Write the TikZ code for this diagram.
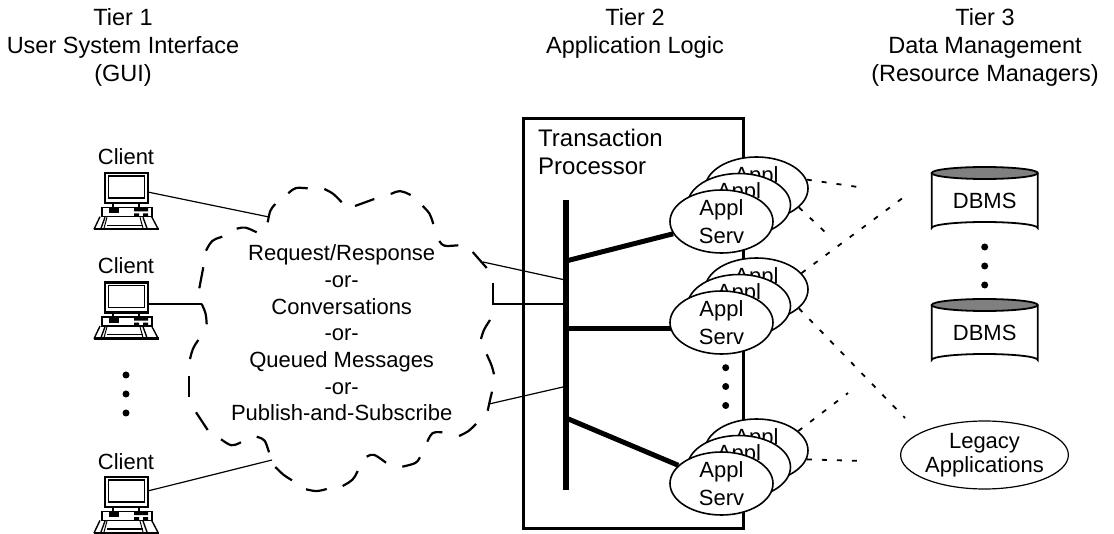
\documentclass[tikz,border=0pt]{standalone}
\usepackage{fontspec}
\setmainfont{Liberation Sans}
\usetikzlibrary{shapes.geometric}
\tikzset{
  txt/.style={font=\fontsize{22}{27.5}\selectfont,align=center,inner sep=0pt},
  head/.style={font=\fontsize{23.5}{28}\selectfont,align=center,inner sep=0pt},
  appl/.style={ellipse,draw,fill=white,line width=1.6pt,minimum width=103pt,minimum height=63pt,inner sep=0pt,font=\fontsize{22}{28}\selectfont,align=center},
  dot/.style={circle,fill=black,minimum size=7pt,inner sep=0pt},
  thinline/.style={line width=1.2pt},
  busline/.style={line width=5pt},
  dashline/.style={line width=1.8pt,dash pattern=on 5pt off 10pt},
  computer/.pic={
    \draw[line width=2.4pt] (0,0) rectangle (42.7,30);
    \draw[line width=1.6pt] (3.3,2.7) rectangle (39.5,25);
    \draw[line width=1.6pt] (8,30) -- (8,34) (34,30) -- (34,34);
    \draw[line width=1.6pt] (-3.3,34.4) rectangle (46.7,43.4);
    \fill (4,34.4) rectangle (14,40);
    \fill (29,34.4) rectangle (43,38) (29,40) rectangle (34,43.4) (38,40) rectangle (43,43.4);
    \draw[line width=1.4pt] (-5,43.4) -- (-11,56) (46.7,43.4) -- (53.3,56);
    \draw[line width=1.4pt] (0,44) -- (-4,55) (38,44) -- (42,55);
    \draw[line width=1pt] (2,44) -- (-1,55) (35,44) -- (38,55);
    \draw[line width=1.2pt] (2,52) -- (38,52);
    \draw[line width=2.4pt] (-11.5,56) -- (53.8,56);
  },
  dbms/.pic={
    \draw[line width=1.8pt,fill=white] (-53,0) -- (-53,55) arc[start angle=180,end angle=360,x radius=53,y radius=6] -- (53,0);
    \draw[line width=1.8pt,fill=gray] (0,0) ellipse[x radius=53,y radius=6];
    \node[txt] (-label) at (0,28) {DBMS};
  },
}
\begin{document}
\begin{tikzpicture}[x=1pt,y=-1pt]
\useasboundingbox (0,0) rectangle (1114,534);
% tier headings
\node[head] (tier1) at (123,47) {Tier 1\\User System Interface\\(GUI)};
\node[head] (tier2) at (635,33) {Tier 2\\Application Logic};
\node[head] (tier3) at (985,47) {Tier 3\\Data Management\\(Resource Managers)};
% clients
\node[txt] (c1) at (126,157) {Client};
\node[txt] (c2) at (126,266) {Client};
\node[txt] (c3) at (126,462) {Client};
\pic at (105,173.3) {computer};
\pic at (105,282.7) {computer};
\pic at (105,477) {computer};
\foreach \y/\n in {375/a,394/b,413/c} \node[dot] (cd\n) at (126,\y) {};
% the cloud
\foreach \ax/\ay/\bx/\by/\cx/\cy in {
  267.7/222.3/270/210/275.3/204, 288.3/193.3/295/187.3/307.7/188.3,
  324.3/189/333.3/193.3/341.7/202.3, 355/206/364/203/374.3/199,
  390.7/194/400/190/410.7/195, 422.7/206/430/213.3/433.3/224,
  439.3/241/443/246.5/458.3/245.3, 472.7/252/480/260/486.7/268,
  490/320/483.5/330/481/339, 486.7/354.3/492/366/494/374.3,
  492/391.7/490/400/487.7/410.7, 476/424/468.3/431.7/459/436,
  427.3/441.7/432/431.7/442.3/432.3, 420/457.3/416.7/463.3/402.3/466.7,
  386/462.7/373.3/453.3/366.7/456.7, 357.7/471/353.3/480/342.7/486,
  326.7/489/316.7/491.7/306/489.3, 292/480.3/283.3/475/275.3/467,
  269/452.3/265/439.3/256.7/436.7, 241/442.3/231.7/446.7/221/439.3,
  207.7/430/201.7/421.7/196/412.3, 189/396.7/188.3/386.7/189/375.7,
  190/359/192.7/348.3/198.3/340, 206.7/324.3/206/313.3/201.7/304,
  199.3/288.3/200.7/278.3/203.3/267.3, 206/250.7/211.7/240/222.3/236.7,
  236.7/228.7/245/226.7/256.7/232.3}
  \draw[line width=2.2pt] (\ax,\ay) .. controls (\bx,\by) .. (\cx,\cy);
\node[txt,font=\fontsize{22}{26.67}\selectfont] (msg) at (341.7,333) {Request/Response\\-or-\\Conversations\\-or-\\Queued Messages\\-or-\\Publish-and-Subscribe};
% transaction processor
\draw[line width=3pt] (523.5,119) rectangle (743,528);
\node[head,font=\fontsize{24}{28}\selectfont,align=left,anchor=west] (tp) at (538,152) {Transaction\\Processor};
\draw[line width=6pt] (566,200) coordinate (bt) -- (566,490) coordinate (bb);
% application servers
\foreach \y/\n in {221.5/1,322.5/2,483.5/3} {
  \node[appl] (ap\n a) at (756.5,\y-33) {Appl\\Serv};
  \node[appl] (ap\n b) at (739,\y-16.5) {Appl\\Serv};
  \node[appl] (ap\n c) at (721.5,\y) {Appl\\Serv};
}
\foreach \y/\n in {367.7/a,386.5/b,405.5/c} \node[dot] (sd\n) at (725.7,\y) {};
\coordinate (b1) at (566,261);
\coordinate (b2) at (566,329);
\coordinate (b3) at (566,418);
\draw[busline] (b1) -- (ap1c);
\draw[busline,shorten >=-2pt] (b2) -- (b2 -| ap2c.west);
\draw[busline] (b3) -- (ap3c);
% thin connectors
\coordinate (k1) at (147.7,192);
\coordinate (k2) at (269,217);
\coordinate (k3) at (147.7,304);
\coordinate (k4) at (201.7,304);
\coordinate (k5) at (147.7,491);
\coordinate (k6) at (272,460);
\draw[thinline] (k1) -- (k2);
\draw[line width=1.5pt] (k3) -- (k4);
\draw[thinline] (k5) -- (k6);
\coordinate (m1) at (483,262);
\coordinate (m2) at (563,279.5);
\coordinate (m3) at (493,283);
\coordinate (m4) at (493,304);
\coordinate (m5) at (563,304);
\coordinate (m6) at (489,404);
\coordinate (m7) at (563,387);
\draw[thinline] (m1) -- (m2);
\draw[line width=1.5pt] (m3) -- (m4) -- (m5);
\draw[thinline] (m6) -- (m7);
% data side
\pic (db1) at (984.7,173) {dbms};
\pic (db2) at (984.7,305) {dbms};
\foreach \y/\n in {247/a,266/b,285/c} \node[dot] (dd\n) at (984.7,\y) {};
\node[ellipse,draw,line width=1.2pt,minimum width=167pt,minimum height=68pt,inner sep=0pt,font=\fontsize{22}{24}\selectfont,align=center] (legacy) at (984.5,455) {Legacy\\Applications};
\coordinate (e1) at (858,187);
\coordinate (e2) at (825,232);
\coordinate (e3) at (908,194);
\coordinate (e4) at (905,418);
\coordinate (e5) at (848,393);
\coordinate (e6) at (862,461);
\draw[dashline] (ap1a.10) -- (e1);
\draw[dashline] (ap1a.-24) -- (e2);
\draw[dashline] (ap2a.20) -- (e3);
\draw[dashline] (ap2a.-24) -- (e4);
\draw[dashline] (ap3a.25) -- (e5);
\draw[dashline] (ap3a.-10) -- (e6);
\end{tikzpicture}
\end{document}
